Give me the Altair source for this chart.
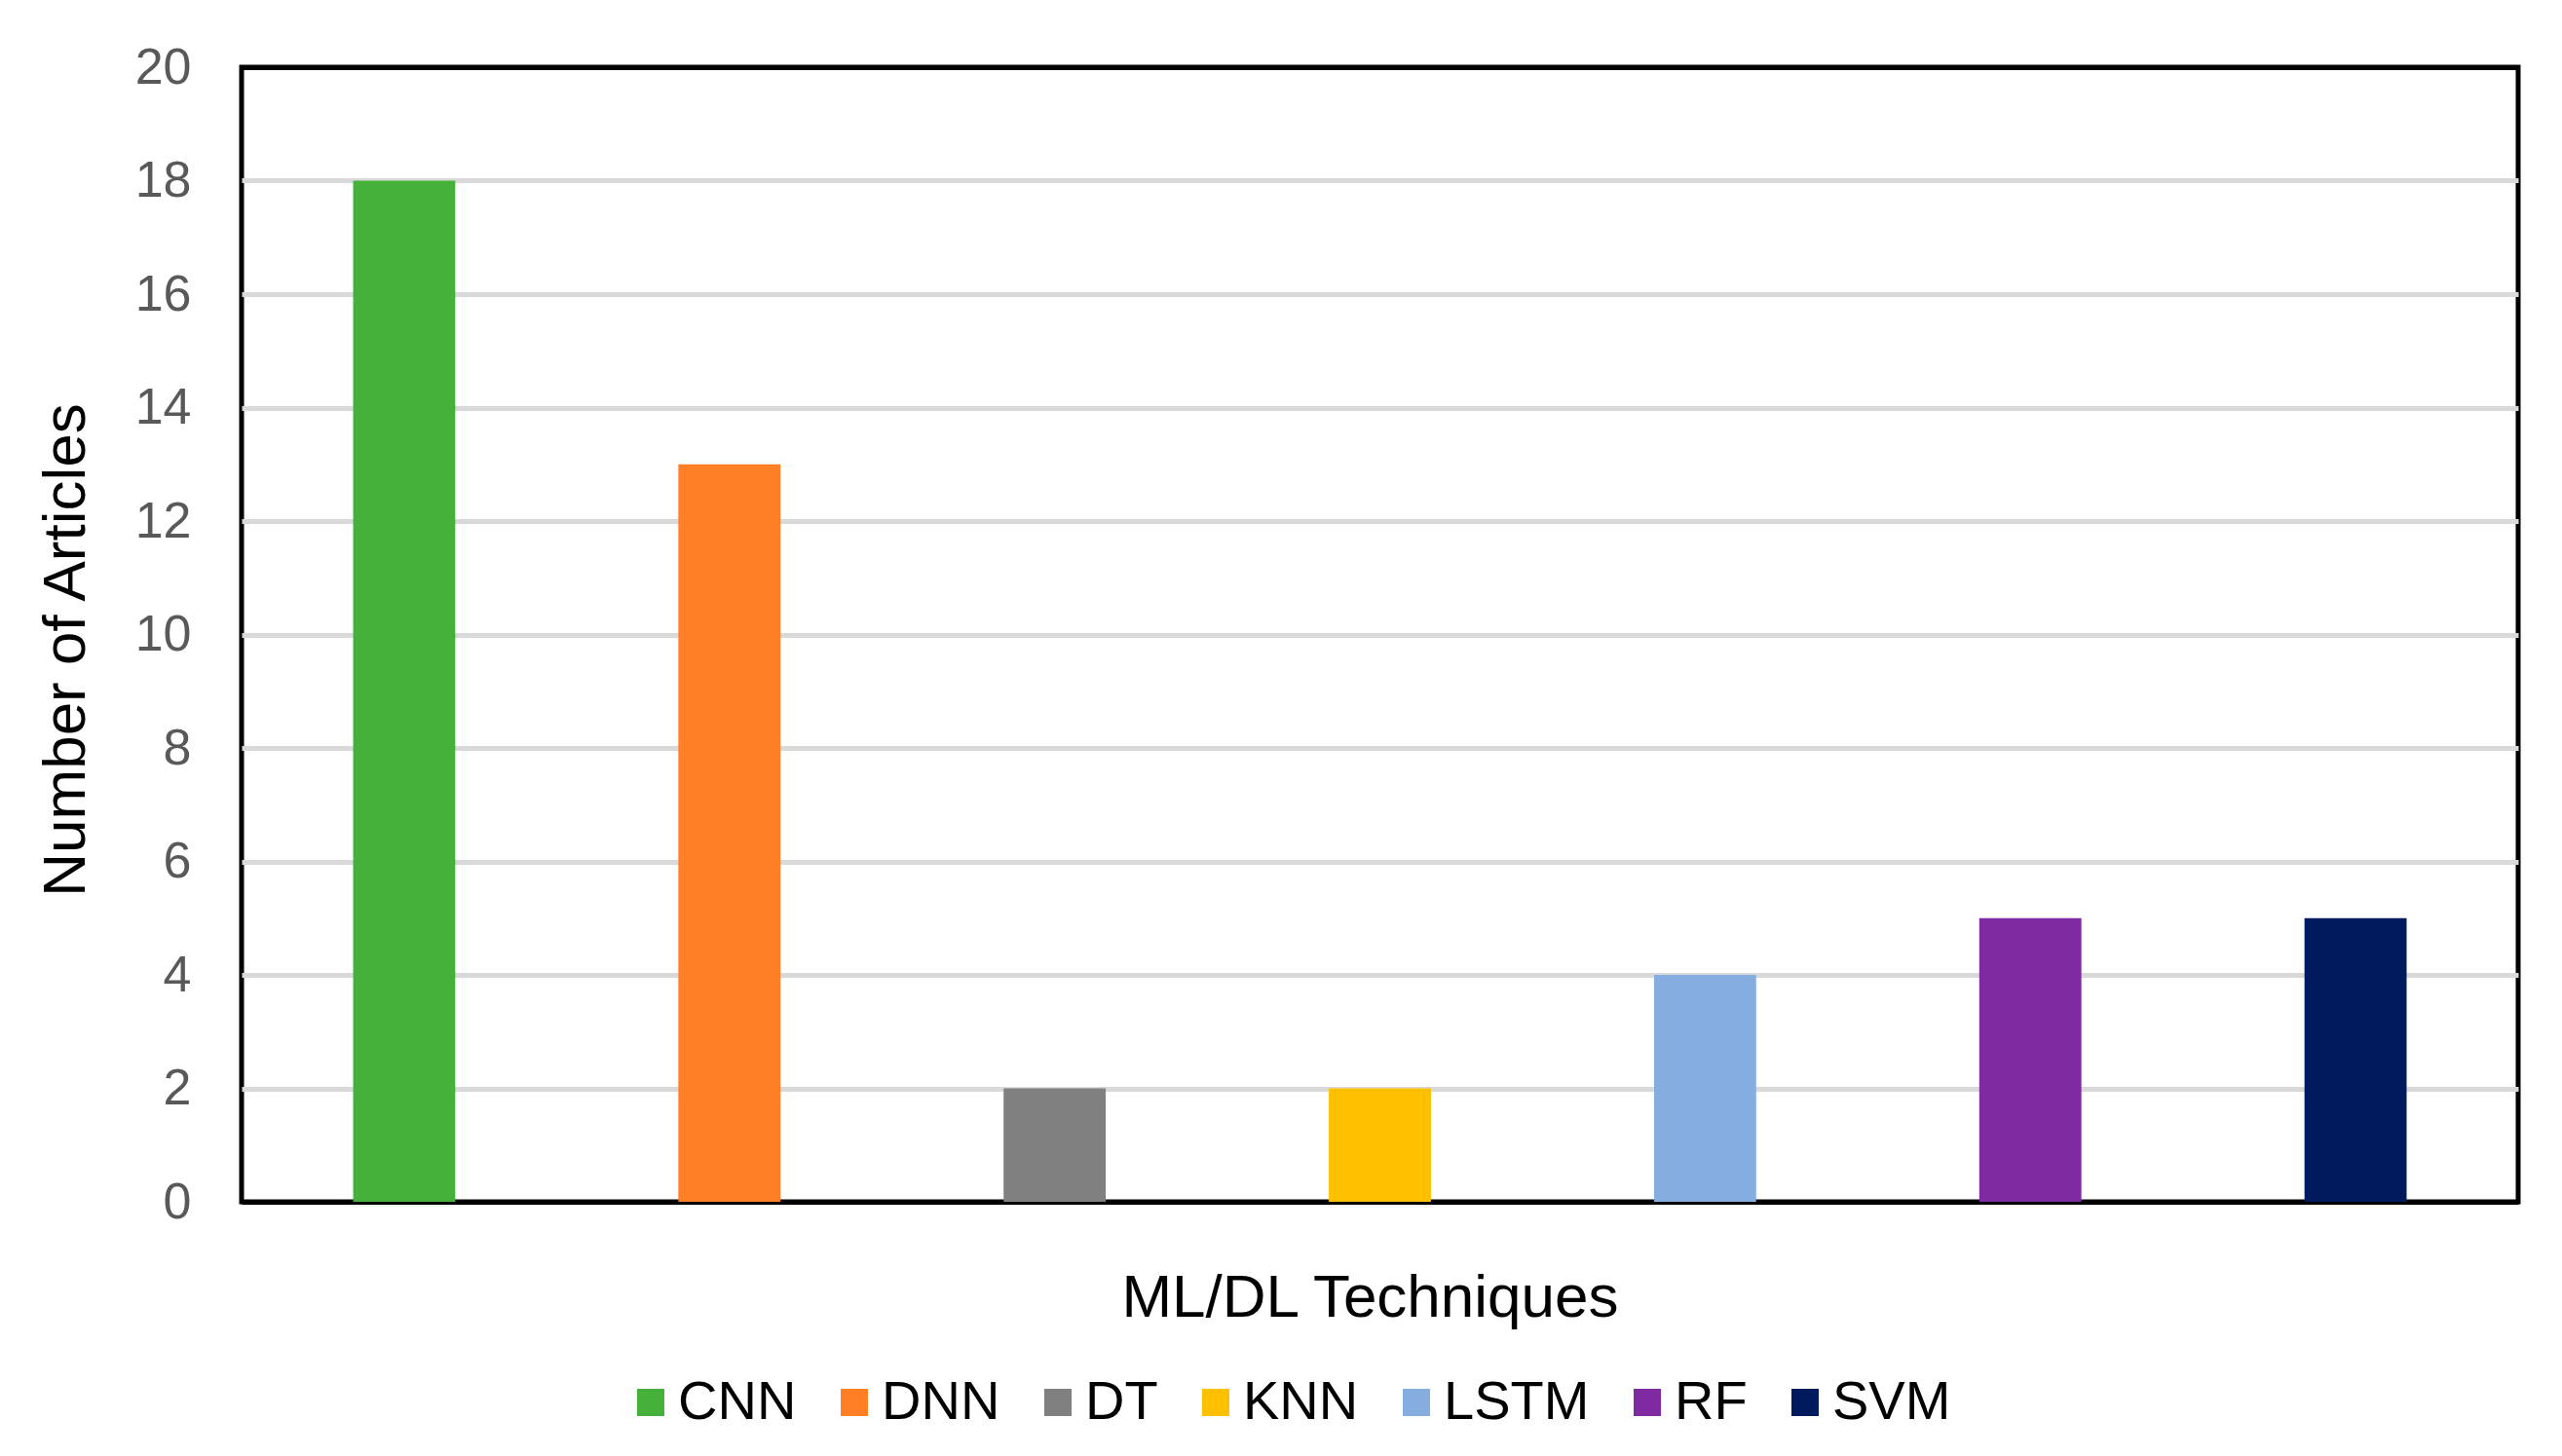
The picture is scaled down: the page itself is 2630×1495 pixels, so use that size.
import altair as alt
import pandas as pd

techniques = ["CNN", "DNN", "DT", "KNN", "LSTM", "RF", "SVM"]
articles = [18, 13, 2, 2, 4, 5, 5]
colors = ["#45B03A", "#FF7F27", "#808080", "#FFC000", "#85ADE0", "#7F2AA0", "#001A5E"]
y_ticks = [0, 2, 4, 6, 8, 10, 12, 14, 16, 18, 20]

df = pd.DataFrame({"Technique": techniques, "Articles": articles})

FONT = "Liberation Sans"

edge_test = "datum.value === 0 || datum.value === 20"

chart = alt.Chart(df).mark_bar().encode(
    x=alt.X(
        "Technique:N",
        sort=techniques,
        scale=alt.Scale(paddingInner=0.686, paddingOuter=0.343),
        axis=alt.Axis(
            title="ML/DL Techniques",
            labels=False, ticks=False, domain=False, grid=False,
            titleFont=FONT, titleFontSize=62, titleFontWeight="normal",
            titleColor="#000000",
            titleX=1158, titleY=117, titleAlign="center", titleBaseline="alphabetic",
        ),
    ),
    y=alt.Y(
        "Articles:Q",
        scale=alt.Scale(domain=[0, 20], nice=False),
        axis=alt.Axis(
            title="Number of Articles",
            values=y_ticks,
            domain=False, ticks=False, tickSize=0,
            grid=True,
            gridColor={"condition": {"test": edge_test, "value": "#000000"}, "value": "#D9D9D9"},
            gridWidth={"condition": {"test": edge_test, "value": 5}, "value": 5},
            labelFont=FONT, labelFontSize=52, labelColor="#595959",
            labelPadding=52, labelOverlap=False,
            titleFont=FONT, titleFontSize=62, titleFontWeight="normal",
            titleColor="#000000",
            titleAngle=270, titleX=-162, titleY=598,
            titleAlign="center", titleBaseline="alphabetic",
        ),
    ),
    color=alt.Color(
        "Technique:N",
        sort=techniques,
        scale=alt.Scale(domain=techniques, range=colors),
        legend=alt.Legend(
            title=None,
            orient="none",
            direction="horizontal",
            legendX=392,
            legendY=1343,
            symbolType="square",
            symbolSize=784,
            symbolStrokeWidth=0,
            labelFont=FONT,
            labelFontSize=56,
            labelColor="#000000",
            labelOffset=0,
            columnPadding=31,
            labelLimit=500,
        ),
    ),
).properties(
    width=2337,
    height=1165,
    padding={"left": 240, "top": 61, "right": 37, "bottom": 253},
    autosize=alt.AutoSizeParams(type="none"),
    background="#FFFFFF",
).configure_view(
    stroke="#000000",
    strokeWidth=5,
)

chart.save("out.html", embed_options={"renderer": "svg", "actions": False})
